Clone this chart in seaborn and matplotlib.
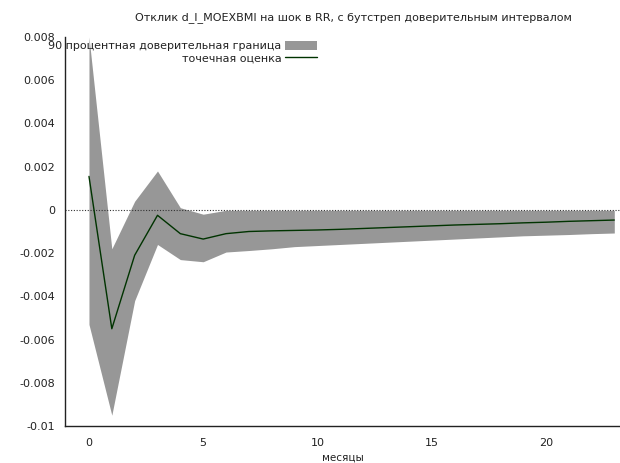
import matplotlib
matplotlib.use("Agg")
import matplotlib.pyplot as plt
import seaborn as sns
import numpy as np
import pandas as pd

months = list(range(24))
point_estimate = [0.00155, -0.0055, -0.0021, -0.00025, -0.0011, -0.00135, -0.0011, -0.00100,
                  -0.00097, -0.00095, -0.00093, -0.00090, -0.00086, -0.00082, -0.00078, -0.00074,
                  -0.00070, -0.00067, -0.00064, -0.00060, -0.00057, -0.00053, -0.00050, -0.00047]
upper_bound = [0.0080, -0.0018, 0.0004, 0.0018, 0.0001, -0.0002, -0.00002, -0.00002,
               -0.00002, -0.00002, -0.00002, -0.00002, -0.00002, -0.00002, -0.00002, -0.00002,
               -0.00002, -0.00002, -0.00002, -0.00002, -0.00002, -0.00002, -0.00002, -0.00002]
lower_bound = [-0.0053, -0.0095, -0.0042, -0.0016, -0.0023, -0.0024, -0.00195, -0.00188,
               -0.00180, -0.00170, -0.00165, -0.00160, -0.00155, -0.00150, -0.00145, -0.00140,
               -0.00135, -0.00130, -0.00125, -0.00120, -0.00117, -0.00114, -0.00110, -0.00107]
x_ticks = [0, 5, 10, 15, 20]
y_ticks = [-0.01, -0.008, -0.006, -0.004, -0.002, 0, 0.002, 0.004, 0.006, 0.008]
y_tick_labels = ["-0.01", "-0.008", "-0.006", "-0.004", "-0.002", "0", "0.002", "0.004", "0.006", "0.008"]

title = "Отклик d_l_MOEXBMI на шок в RR, с бутстреп доверительным интервалом"
band_label = "90 процентная доверительная граница"
line_label = "точечная оценка"
xlabel = "месяцы"

df = pd.DataFrame({"month": months, "est": point_estimate, "lo": lower_bound, "hi": upper_bound})

sns.set_style("white")
plt.rcParams["font.family"] = ["DejaVu Sans"]

fig = plt.figure(figsize=(6.2, 4.63), dpi=100)
ax = fig.add_axes([65 / 620, 1 - 426 / 463, 1 - 65 / 620, (426 - 37) / 463])

band = ax.fill_between(df["month"], df["lo"], df["hi"], color="#979797", linewidth=0, label=band_label, zorder=1)
ax.axhline(0, color="#333333", linestyle=(0, (1, 1.5)), linewidth=0.8, zorder=2)
sns.lineplot(data=df, x="month", y="est", ax=ax, color="#003300", linewidth=1.0, label=line_label, zorder=3)

ax.set_xlim(-1.05, 23.25)
ax.set_ylim(-0.01, 0.008)
ax.set_xticks(x_ticks)
ax.set_xticklabels([str(t) for t in x_ticks])
ax.set_yticks(y_ticks)
ax.set_yticklabels(y_tick_labels)

for s in ["top", "right"]:
    ax.spines[s].set_visible(False)
for s in ["left", "bottom"]:
    ax.spines[s].set_color("#222222")
    ax.spines[s].set_linewidth(1.0)

ax.tick_params(axis="both", direction="in", length=4, width=0.8, color="#222222",
               labelsize=8, labelcolor="#222222", pad=7)
ax.tick_params(axis="x", pad=9)

ax.set_xlabel(xlabel, fontsize=7.5, color="#222222", labelpad=3)
ax.set_ylabel("")
fig.text(353 / 620, 1 - 18 / 463, title, ha="center", va="center", fontsize=8, color="#222222")

handles, labels = ax.get_legend_handles_labels()
order = [labels.index(band_label), labels.index(line_label)]
leg = ax.legend([handles[i] for i in order], [labels[i] for i in order],
                loc="upper left", bbox_to_anchor=(-17 / 555, 1.0 - 4 / 389), frameon=False, markerfirst=False,
                fontsize=8, handlelength=2.9, handleheight=0.8, handletextpad=0.3, labelspacing=0.2,
                borderaxespad=0.0, borderpad=0.0)
for col in leg._legend_handle_box.get_children():
    col.align = "right"
for t in leg.get_texts():
    t.set_color("#222222")

fig.savefig("out.png", dpi=100)
